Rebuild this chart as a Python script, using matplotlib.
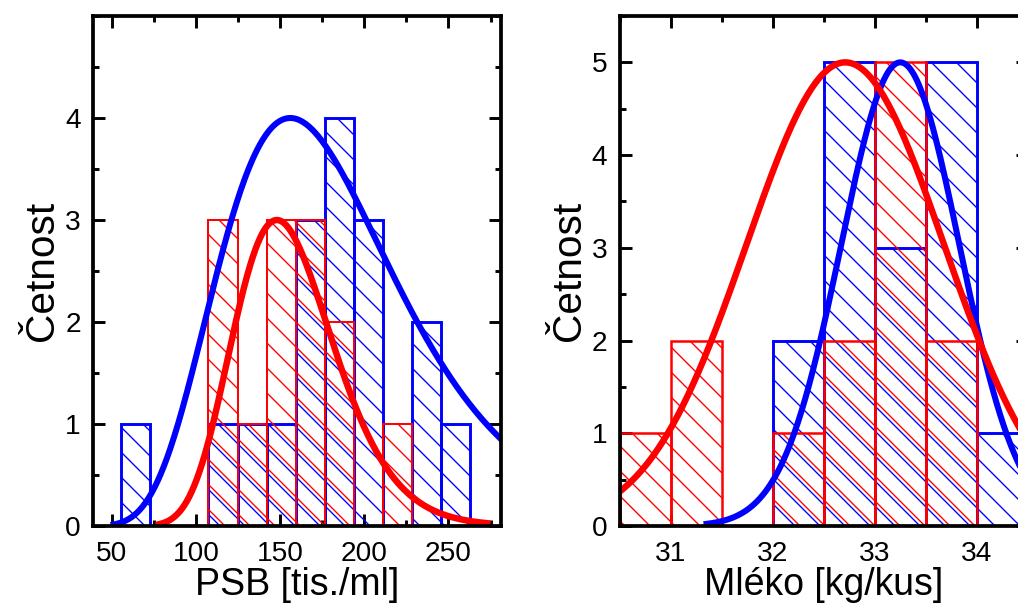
import numpy as np
import matplotlib
matplotlib.use('Agg')
import matplotlib.pyplot as plt
from matplotlib.ticker import MultipleLocator
from matplotlib.collections import LineCollection
from matplotlib.transforms import IdentityTransform

DPI = 150
W_PX, H_PX = 1018, 606
plt.rcParams['font.family'] = ['Liberation Sans', 'DejaVu Sans']

# --- data ---
# PSB histogram (bins of equal width)
psb_bin_start = 55.5
psb_bin_width = 17.29
psb_blue = [1, 0, 0, 1, 1, 1, 3, 4, 3, 0, 2, 1]
psb_red = [0, 0, 0, 3, 1, 3, 3, 2, 0, 1, 0, 0]

# Mleko histogram
milk_bin_start = 30.5
milk_bin_width = 0.5
milk_blue = [0, 0, 0, 2, 5, 3, 5, 1]
milk_red = [1, 2, 0, 1, 2, 5, 2, 0]

# fitted curves: amplitude, centre, width, x range
psb_blue_fit = (4.0, 156.0, 0.335, 51, 290)   # log-normal
psb_red_fit = (3.0, 148.0, 0.20, 78, 273)     # log-normal
milk_blue_fit = (5.0, 33.25, 0.58, 31.35, 35.0)  # gauss
milk_red_fit = (5.0, 32.71, 0.97, 30.0, 35.0)    # gauss

BLUE = '#0000ff'
RED = '#ff0000'


def lognorm_curve(fit):
    amp, xc, w, x0, x1 = fit
    x = np.linspace(x0, x1, 400)
    return x, amp * np.exp(-np.log(x / xc) ** 2 / (2 * w ** 2))


def gauss_curve(fit):
    amp, xc, w, x0, x1 = fit
    x = np.linspace(x0, x1, 400)
    return x, amp * np.exp(-(x - xc) ** 2 / (2 * w ** 2))


def hatch_segments(phase, spacing=25):
    # "\" lines in pixel space, so blue and red can sit side by side
    segs = []
    for c in np.arange(phase, H_PX + W_PX + spacing, spacing):
        segs.append([(-10, c + 10), (W_PX + 10, c - W_PX - 10)])
    return segs


def draw_hist(ax, start, width, counts, color, lw, phase, z):
    lefts = [start + i * width for i in range(len(counts))]
    heights = [c for c in counts]
    bars = ax.bar(lefts, heights, width=width, align='edge', fill=False,
                  edgecolor=color, linewidth=lw, zorder=z + 0.5)
    segs = hatch_segments(phase)
    for patch, c in zip(bars.patches, counts):
        if c == 0:
            patch.set_visible(False)
            continue
        lc = LineCollection(segs, colors=color, linewidths=0.65,
                            transform=IdentityTransform(), zorder=z)
        ax.add_collection(lc, autolim=False)
        lc.set_clip_path(patch)


def style_axes(ax, xlabel):
    for s in ax.spines.values():
        s.set_linewidth(1.8)
        s.set_zorder(6)
    ax.tick_params(which='both', direction='in', top=True, right=True,
                   labelsize=13.5, width=1.4, pad=7)
    ax.tick_params(which='major', length=5.8)
    ax.tick_params(which='minor', length=2.8)
    ax.tick_params(axis='y', pad=6)
    ax.set_xlabel(xlabel, fontsize=18, labelpad=0)
    ax.set_ylabel('Četnost', fontsize=19.5, labelpad=2)


fig = plt.figure(figsize=(W_PX / DPI, H_PX / DPI), dpi=DPI)

# left panel
ax1 = fig.add_axes([0.0917, 0.132, 0.4001, 0.8416])
draw_hist(ax1, psb_bin_start, psb_bin_width, psb_blue, BLUE, 1.4, 0, 2)
draw_hist(ax1, psb_bin_start, psb_bin_width, psb_red, RED, 0.95, 5, 3)
x, y = lognorm_curve(psb_blue_fit)
ax1.plot(x, y, color=BLUE, lw=2.9, zorder=4)
x, y = lognorm_curve(psb_red_fit)
ax1.plot(x, y, color=RED, lw=3.1, zorder=5)
ax1.set_xlim(39, 281)
ax1.set_ylim(0, 5)
ax1.set_xticks([50, 100, 150, 200, 250])
ax1.xaxis.set_minor_locator(MultipleLocator(25))
ax1.set_yticks([0, 1, 2, 3, 4])
ax1.yaxis.set_minor_locator(MultipleLocator(0.5))
style_axes(ax1, 'PSB [tis./ml]')

# right panel (runs off the right edge of the picture)
ax2 = fig.add_axes([0.609, 0.132, 0.4005, 0.8416])
draw_hist(ax2, milk_bin_start, milk_bin_width, milk_blue, BLUE, 1.4, 0, 2)
draw_hist(ax2, milk_bin_start, milk_bin_width, milk_red, RED, 1.2, 5, 3)
x, y = gauss_curve(milk_blue_fit)
ax2.plot(x, y, color=BLUE, lw=2.9, zorder=4)
x, y = gauss_curve(milk_red_fit)
ax2.plot(x, y, color=RED, lw=3.1, zorder=5)
ax2.set_xlim(30.5, 34.5)
ax2.set_ylim(0, 5.5)
ax2.set_xticks([31, 32, 33, 34])
ax2.xaxis.set_minor_locator(MultipleLocator(0.5))
ax2.set_yticks([0, 1, 2, 3, 4, 5])
ax2.yaxis.set_minor_locator(MultipleLocator(0.5))
style_axes(ax2, 'Mléko [kg/kus]')

fig.savefig('out.png', dpi=DPI)
